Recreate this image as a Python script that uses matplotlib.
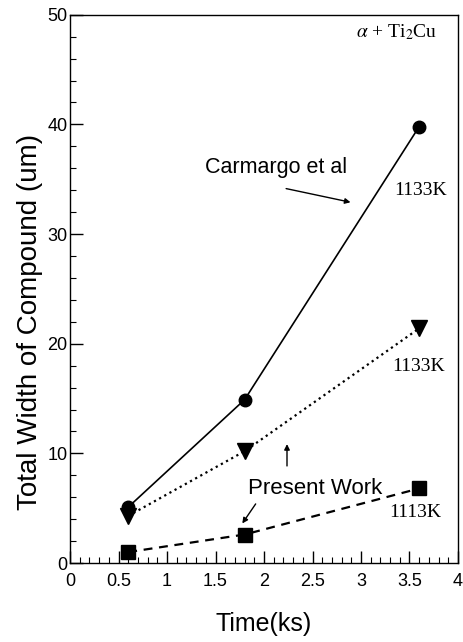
import matplotlib
matplotlib.use("Agg")
import matplotlib.pyplot as plt
from matplotlib.ticker import MultipleLocator

time_ks = [0.6, 1.8, 3.6]
carmargo_1133 = [5.1, 14.9, 39.8]
present_1133 = [4.3, 10.2, 21.4]
present_1113 = [1.0, 2.6, 6.8]

x_ticks = [0, 0.5, 1, 1.5, 2, 2.5, 3, 3.5, 4]
x_tick_labels = ["0", "0.5", "1", "1.5", "2", "2.5", "3", "3.5", "4"]
y_ticks = [0, 10, 20, 30, 40, 50]

sans = "Liberation Sans"
serif = "Liberation Serif"
plt.rcParams["mathtext.fontset"] = "stix"

fig = plt.figure(figsize=(4.64, 6.42), dpi=100)
ax = fig.add_axes([0.151, 0.123, 0.836, 0.854])

ax.plot(time_ks, carmargo_1133, "-", color="black", lw=1.2, marker="o", ms=9)
ax.plot(time_ks, present_1133, ":", color="black", lw=1.6, marker="v", ms=11)
ax.plot(time_ks, present_1113, "--", color="black", lw=1.6, marker="s", ms=10, dashes=(4, 3))

ax.set_xlim(0, 4)
ax.set_ylim(0, 50)
ax.set_xticks(x_ticks)
ax.set_xticklabels(x_tick_labels)
ax.set_yticks(y_ticks)
ax.xaxis.set_minor_locator(MultipleLocator(0.1))
ax.yaxis.set_minor_locator(MultipleLocator(2))
ax.tick_params(which="major", direction="in", length=9, width=1, labelsize=13, pad=7)
ax.tick_params(which="minor", direction="in", length=4, width=0.8)
ax.tick_params(axis="y", pad=2)
for lbl in ax.get_xticklabels() + ax.get_yticklabels():
    lbl.set_family(sans)
for s in ax.spines.values():
    s.set_linewidth(1.0)

ax.set_xlabel("Time(ks)", fontsize=18, family=sans, labelpad=16)
ax.set_ylabel("Total Width of Compound (um)", fontsize=20, family=sans)
ax.yaxis.set_label_coords(-0.07, 0.44)

ax.text(3.37, 48.4, r"$\alpha$ + Ti$_2$Cu", fontsize=14, family=serif, ha="center", va="center")
ax.text(2.12, 36.1, "Carmargo et al", fontsize=15.5, family=sans, ha="center", va="center")
ax.annotate("", xy=(2.92, 32.85), xytext=(2.2, 34.2),
            arrowprops=dict(arrowstyle="-|>", color="black", lw=1.0, mutation_scale=8))
ax.text(3.61, 34.0, "1133K", fontsize=14, family=serif, ha="center", va="center")
ax.text(3.59, 17.9, "1133K", fontsize=14, family=serif, ha="center", va="center")
ax.text(3.56, 4.65, "1113K", fontsize=14, family=serif, ha="center", va="center")
ax.text(2.53, 6.84, "Present Work", fontsize=16, family=sans, ha="center", va="center")
ax.annotate("", xy=(2.237, 11.1), xytext=(2.237, 8.6),
            arrowprops=dict(arrowstyle="-|>", color="black", lw=1.0, mutation_scale=8))
ax.annotate("", xy=(1.76, 3.4), xytext=(1.93, 5.6),
            arrowprops=dict(arrowstyle="-|>", color="black", lw=1.0, mutation_scale=8))

fig.savefig("out.png", dpi=100)
